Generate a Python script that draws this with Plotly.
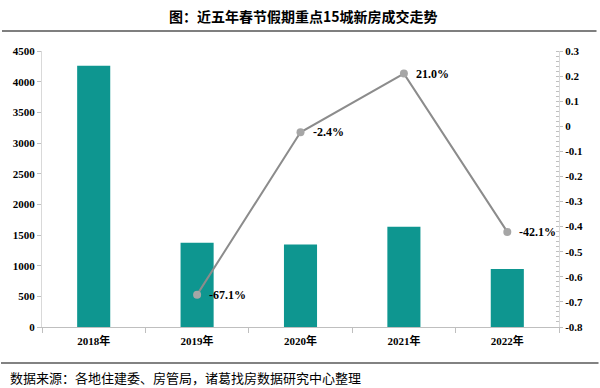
import plotly.graph_objects as go

categories = ["2018年", "2019年", "2020年", "2021年", "2022年"]
volumes = [4260, 1375, 1345, 1635, 945]
growth = [None, -0.671, -0.024, 0.210, -0.421]
growth_labels = ["", "-67.1%", "-2.4%", "21.0%", "-42.1%"]
left_ticks = [0, 500, 1000, 1500, 2000, 2500, 3000, 3500, 4000, 4500]
right_ticks = [0.3, 0.2, 0.1, 0, -0.1, -0.2, -0.3, -0.4, -0.5, -0.6, -0.7, -0.8]
right_tick_text = ["0.3", "0.2", "0.1", "0", "-0.1", "-0.2", "-0.3", "-0.4", "-0.5", "-0.6", "-0.7", "-0.8"]
title_text = "图：近五年春节假期重点15城新房成交走势"
source_text = "数据来源：各地住建委、房管局，诸葛找房数据研究中心整理"

serif = "Liberation Serif, 'Noto Sans CJK SC', serif"
W, H = 600, 388
ml, mr, mt, mb = 42, 41, 51, 61
pw, ph = W - ml - mr, H - mt - mb

def px_x(x):
    return (x - ml) / pw

def px_y(y):
    return (H - mb - y) / ph

fig = go.Figure()
fig.add_trace(go.Bar(
    x=categories, y=volumes, marker=dict(color="#0e9690", line=dict(width=0)),
    yaxis="y", showlegend=False,
))
fig.add_trace(go.Scatter(
    x=categories, y=growth, yaxis="y2", mode="lines+markers",
    line=dict(color="#8c8c8c", width=2),
    marker=dict(color="#a6a6a6", size=8),
    showlegend=False, connectgaps=False,
))

annotations = [
    dict(text=title_text, xref="paper", yref="paper",
         x=px_x(303), y=px_y(16), xanchor="center", yanchor="middle",
         showarrow=False,
         font=dict(family="'Noto Sans CJK SC'", size=14, color="#000000", weight="bold")),
    dict(text=source_text, xref="paper", yref="paper",
         x=px_x(8), y=px_y(377), xanchor="left", yanchor="middle",
         showarrow=False,
         font=dict(family="'Noto Sans CJK SC'", size=13, color="#000000")),
    # separator rules drawn as head-less arrows
    dict(text="", xref="paper", yref="paper", x=px_x(2), y=px_y(31),
         axref="pixel", ayref="pixel", ax=596, ay=0,
         showarrow=True, arrowhead=0, arrowwidth=2, arrowcolor="#7f7f7f",
         standoff=0, startstandoff=0),
    dict(text="", xref="paper", yref="paper", x=px_x(0), y=px_y(363),
         axref="pixel", ayref="pixel", ax=600, ay=0,
         showarrow=True, arrowhead=0, arrowwidth=1.5, arrowcolor="#595959",
         standoff=0, startstandoff=0),
]
for cat, g, lab in zip(categories, growth, growth_labels):
    if g is None:
        continue
    annotations.append(dict(
        text=lab, x=cat, y=g, xref="x", yref="y2",
        xanchor="left", yanchor="middle", xshift=10, showarrow=False,
        font=dict(family=serif, size=12, color="#000000", weight="bold"),
    ))

fig.update_layout(
    width=W, height=H,
    margin=dict(l=ml, r=mr, t=mt, b=mb),
    paper_bgcolor="white", plot_bgcolor="white",
    bargap=0.68,
    xaxis=dict(
        showline=True, linecolor="#bfbfbf", linewidth=1,
        ticks="outside", ticklen=5, tickcolor="#bfbfbf", tickson="boundaries",
        ticklabelstandoff=4,
        tickfont=dict(family=serif, size=11, color="#000000", weight="bold"),
        showgrid=False,
    ),
    yaxis=dict(
        range=[0, 4500], tickvals=left_ticks,
        showline=True, linecolor="#d9d9d9", linewidth=1,
        ticks="outside", ticklen=4, tickcolor="#bfbfbf",
        tickfont=dict(family=serif, size=11, color="#000000", weight="bold"),
        showgrid=False, zeroline=False,
    ),
    yaxis2=dict(
        range=[-0.8, 0.3], overlaying="y", side="right",
        tickvals=right_ticks, ticktext=right_tick_text,
        showline=True, linecolor="#d9d9d9", linewidth=1,
        ticks="outside", ticklen=3, tickcolor="#bfbfbf",
        minor=dict(dtick=0.02, ticks="inside", ticklen=3, tickcolor="#bfbfbf"),
        tickfont=dict(family=serif, size=11, color="#000000", weight="bold"),
        showgrid=False, zeroline=False,
    ),
    annotations=annotations,
)

fig.write_html(
    "out.html",
    config={"displayModeBar": False},
    post_script="document.body.style.margin='0';document.body.style.overflow='hidden';",
)
